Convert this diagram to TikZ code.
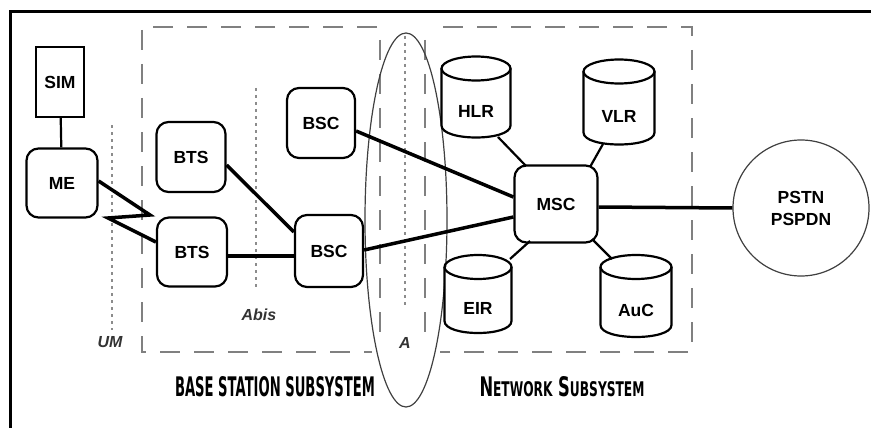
\documentclass[tikz,border=0pt]{standalone}
\usepackage{fontspec}
\usepackage{graphicx}
\setmainfont{Liberation Sans}
\newfontfamily\capfont{DejaVu Sans}
\usetikzlibrary{shapes.geometric}
\tikzset{
  box/.style={draw, line width=2.2pt, rounded corners=12pt, inner sep=0pt, font=\fontsize{17.5}{19}\selectfont\bfseries},
  sqbox/.style={draw, line width=2.2pt, inner sep=0pt, font=\fontsize{17.5}{19}\selectfont\bfseries},
  lbl/.style={inner sep=0pt, font=\fontsize{17.5}{19}\selectfont\bfseries},
  thick link/.style={line width=3.5pt},
  thin link/.style={line width=2.2pt},
  region/.style={draw=black!50, line width=2.8pt, dash pattern=on 20pt off 14pt},
  iface/.style={draw=black!45, line width=2pt, dash pattern=on 3pt off 4pt},
  ifacelbl/.style={font=\fontsize{16}{18}\selectfont\bfseries\itshape, text=black!80}
}
\newcommand{\mycyl}[6]{% name, cx, cy(center), w, h, text
  \node[minimum width=#4pt, minimum height=#5pt, inner sep=0pt] (#1) at (#2,#3) {};
  \pgfmathsetmacro{\cylL}{#2-#4/2}\pgfmathsetmacro{\cylR}{#2+#4/2}
  \pgfmathsetmacro{\cylT}{#3-#5/2+12}\pgfmathsetmacro{\cylB}{#3+#5/2-12}
  \pgfmathsetmacro{\cylC}{#3+#5/2+4}
  \draw[line width=2.2pt, fill=white] (\cylL,\cylT) -- (\cylL,\cylB) .. controls (\cylL,\cylC) and (\cylR,\cylC) .. (\cylR,\cylB) -- (\cylR,\cylT);
  \draw[line width=2.2pt] (#2,\cylT) ellipse[x radius=#4/2, y radius=12];
  \node[lbl] at (#2,#3+14) {#6};
}
\begin{document}
\begin{tikzpicture}[x=1pt,y=-1pt]
\useasboundingbox (0,0) rectangle (871,428);
\fill[white] (0,0) rectangle (871,428);
% frame
\draw[line width=3pt] (10,428) -- (10,12) -- (871,12);
% subsystem regions
\draw[region] (377,27) -- (142,27) -- (142,352) -- (372,352);
\draw[region] (380,40) -- (380,345);
\draw[region] (425,40) -- (425,345);
\draw[region] (443,27) -- (692,27) -- (692,352) -- (440,352);
% interface A ellipse
\node[draw=black!75, line width=1.2pt, ellipse, minimum width=82pt, minimum height=374pt, inner sep=0pt] (aell) at (406,220) {};
\coordinate (atop) at (405,36);
\coordinate (abot) at (405,305);
\draw[iface] (atop) -- (abot);
\node[ifacelbl] (alab) at (405,343) {A};
% Um and Abis
\coordinate (umtop) at (112,125);
\coordinate (umbot) at (112,330);
\draw[iface] (umtop) -- (umbot);
\node[ifacelbl] (umlab) at (110,342) {UM};
\coordinate (abtop) at (256,88);
\coordinate (abbot) at (256,290);
\draw[iface] (abtop) -- (abbot);
\node[ifacelbl] (ablab) at (259,315) {Abis};
% nodes
\node[sqbox, minimum width=48pt, minimum height=70pt] (sim) at (60,82) {SIM};
\node[box, minimum width=71pt, minimum height=69pt] (me) at (62,183) {ME};
\node[box, minimum width=69pt, minimum height=70pt] (bts1) at (191,157) {BTS};
\node[box, minimum width=70pt, minimum height=69pt] (bts2) at (192,252) {BTS};
\node[box, minimum width=68pt, minimum height=70pt] (bsc1) at (321,123) {BSC};
\node[box, minimum width=68pt, minimum height=72pt] (bsc2) at (329,251) {BSC};
\node[box, minimum width=83pt, minimum height=77pt] (msc) at (556,204) {MSC};
\mycyl{hlr}{476}{97}{69}{81}{HLR}
\mycyl{vlr}{619}{102}{71}{85}{VLR}
\mycyl{eir}{478}{294}{67}{78}{EIR}
\mycyl{auc}{636}{296}{71}{82}{AuC}
\node[draw=black!75, line width=1.2pt, circle, minimum size=136pt, inner sep=0pt, align=center, font=\fontsize{17.5}{22}\selectfont\bfseries] (pstn) at (801,208) {PSTN\\PSPDN};
% links
\draw[thin link] (sim) -- (me);
\coordinate (z1) at (150,215);
\coordinate (z2) at (108,218);
\draw[thick link, line join=miter] (me.east |- 0,181) -- (z1) -- (z2) -- (bts2.west |- 0,242);
\draw[thick link] (bts1.east |- 0,165) -- (bsc2.west |- 0,232);
\draw[thick link] (bts2.east |- 0,256) -- (bsc2.west |- 0,256);
\draw[thick link] (bsc1.east |- 0,131) -- (msc.west |- 0,197);
\draw[thick link] (bsc2.east |- 0,250) -- (msc.west |- 0,217);
\draw[thick link] (msc.east |- 0,207) -- (pstn.west);
\draw[thin link] (498,137) -- (526,166);
\draw[thin link] (603,144) -- (590,167);
\draw[thin link] (510,259) -- (530,241);
\draw[thin link] (612,259) -- (592,239);
% subsystem labels
\node[inner sep=0pt] (bsslab) at (275,387) {\resizebox{200pt}{20pt}{\capfont\bfseries BASE STATION SUBSYSTEM}};
\node[inner sep=0pt] (nsslab) at (562,387) {\resizebox{165pt}{20pt}{\capfont\bfseries N{\fontsize{7.5}{8}\selectfont ETWORK} S{\fontsize{7.5}{8}\selectfont UBSYSTEM}}};
\end{tikzpicture}
\end{document}
